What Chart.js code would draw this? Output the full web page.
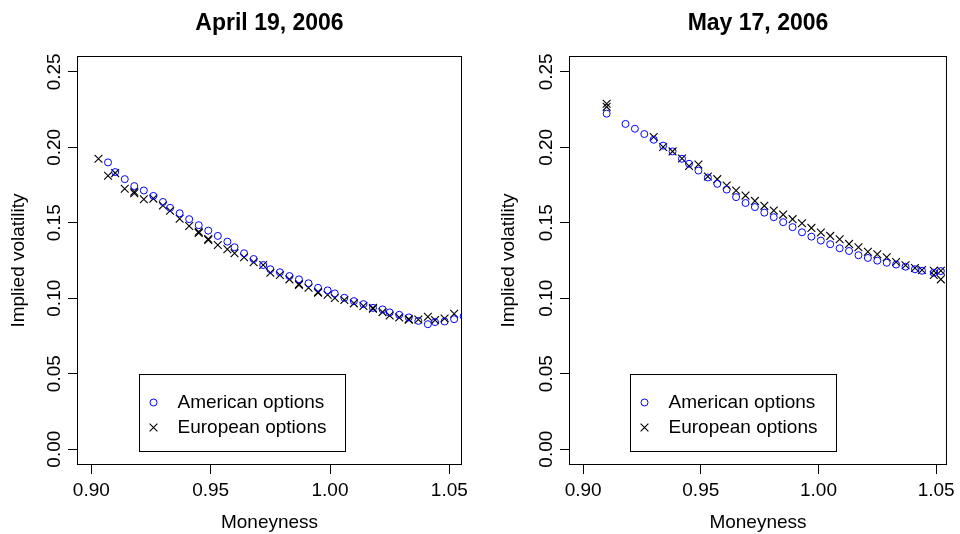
<!DOCTYPE html>
<html>
<head>
<meta charset="utf-8">
<title>Implied volatility</title>
<script src="https://cdn.jsdelivr.net/npm/chart.js@4/dist/chart.umd.min.js"></script>
<style>
  html, body { margin: 0; padding: 0; background: #fff; }
  #wrap { display: flex; width: 960px; height: 534px; }
  canvas { display: block; }
</style>
</head>
<body>
<div id="wrap">
  <canvas id="april" width="480" height="534"></canvas>
  <canvas id="may" width="480" height="534"></canvas>
</div>
<script>
// April 19, 2006
const aprAmericanX = [0.907, 0.910, 0.914, 0.918, 0.922, 0.926, 0.930, 0.933, 0.937, 0.941,
  0.945, 0.949, 0.953, 0.957, 0.960, 0.964, 0.968, 0.972, 0.975, 0.979,
  0.983, 0.987, 0.991, 0.995, 0.999, 1.002, 1.006, 1.010, 1.014, 1.018,
  1.022, 1.025, 1.029, 1.033, 1.037, 1.041, 1.044, 1.048, 1.052, 1.056];
const aprAmericanY = [0.1900, 0.1836, 0.1789, 0.1743, 0.1714, 0.1678, 0.1638, 0.1599, 0.1563, 0.1524,
  0.1484, 0.1448, 0.1413, 0.1375, 0.1338, 0.1298, 0.1260, 0.1220, 0.1192, 0.1172,
  0.1147, 0.1125, 0.1099, 0.1069, 0.1052, 0.1032, 0.1003, 0.0981, 0.0961, 0.0936,
  0.0926, 0.0906, 0.0890, 0.0873, 0.0850, 0.0828, 0.0842, 0.0846, 0.0861, 0.0881];
const aprEuropeanX = [0.903, 0.907, 0.910, 0.914, 0.918, 0.918, 0.922, 0.926, 0.930, 0.933,
  0.937, 0.941, 0.945, 0.945, 0.949, 0.949, 0.953, 0.957, 0.960, 0.964,
  0.968, 0.972, 0.975, 0.979, 0.983, 0.987, 0.987, 0.991, 0.995, 0.995,
  0.999, 1.002, 1.006, 1.010, 1.014, 1.018, 1.018, 1.022, 1.025, 1.029,
  1.033, 1.033, 1.037, 1.041, 1.044, 1.048, 1.052];
const aprEuropeanY = [0.1924, 0.1811, 0.1829, 0.1725, 0.1696, 0.1706, 0.1656, 0.1660, 0.1614, 0.1579,
  0.1526, 0.1479, 0.1433, 0.1441, 0.1393, 0.1386, 0.1353, 0.1324, 0.1298, 0.1271,
  0.1238, 0.1220, 0.1169, 0.1154, 0.1125, 0.1094, 0.1088, 0.1069, 0.1036, 0.1042,
  0.1023, 0.1001, 0.0988, 0.0966, 0.0948, 0.0930, 0.0936, 0.0908, 0.0886, 0.0873,
  0.0863, 0.0858, 0.0859, 0.0877, 0.0855, 0.0866, 0.0897];

// May 17, 2006
const mayAmericanX = [0.910, 0.918, 0.922, 0.926, 0.930, 0.934, 0.938, 0.942, 0.945, 0.949,
  0.953, 0.957, 0.961, 0.965, 0.969, 0.973, 0.977, 0.981, 0.985, 0.989,
  0.993, 0.997, 1.001, 1.005, 1.009, 1.013, 1.017, 1.021, 1.025, 1.029,
  1.033, 1.037, 1.041, 1.044, 1.049, 1.052];
const mayAmericanY = [0.2223, 0.2155, 0.2123, 0.2088, 0.2050, 0.2011, 0.1973, 0.1924, 0.1891, 0.1846,
  0.1800, 0.1758, 0.1720, 0.1670, 0.1631, 0.1604, 0.1567, 0.1537, 0.1504, 0.1471,
  0.1437, 0.1408, 0.1382, 0.1358, 0.1331, 0.1313, 0.1285, 0.1267, 0.1249, 0.1235,
  0.1223, 0.1209, 0.1192, 0.1182, 0.1169, 0.1180];
const mayEuropeanX = [0.910, 0.910, 0.930, 0.934, 0.938, 0.942, 0.945, 0.949, 0.953, 0.957,
  0.961, 0.965, 0.969, 0.973, 0.977, 0.981, 0.985, 0.989, 0.993, 0.997,
  1.001, 1.005, 1.009, 1.013, 1.017, 1.021, 1.025, 1.029, 1.033, 1.037,
  1.041, 1.044, 1.049, 1.049, 1.052, 1.052];
const mayEuropeanY = [0.2289, 0.2268, 0.2068, 0.2002, 0.1973, 0.1926, 0.1876, 0.1886, 0.1807, 0.1789,
  0.1747, 0.1714, 0.1680, 0.1645, 0.1612, 0.1581, 0.1554, 0.1524, 0.1497, 0.1466,
  0.1435, 0.1413, 0.1391, 0.1360, 0.1338, 0.1308, 0.1291, 0.1271, 0.1240, 0.1218,
  0.1200, 0.1187, 0.1182, 0.1154, 0.1182, 0.1125];

const xTicks = [0.90, 0.95, 1.00, 1.05];
const yTicks = [0.00, 0.05, 0.10, 0.15, 0.20, 0.25];
const seriesNames = ['American options', 'European options'];

const FONT = '"Liberation Sans", Arial, Helvetica, sans-serif';
const americanStyle = { pointStyle: 'circle', radius: 3.5, borderWidth: 1, borderColor: '#0000ff', backgroundColor: 'rgba(0,0,0,0)' };
const europeanStyle = { pointStyle: 'crossRot', radius: 5.5, borderWidth: 1.1, borderColor: '#000000', backgroundColor: 'rgba(0,0,0,0)' };

function zip(xs, ys) {
    return xs.map((x, i) => ({ x: x, y: ys[i] }));
}

// box, rotated y tick labels and legend, R style
const rStyle = {
    id: 'rStyle',
    afterDraw(chart) {
        const { ctx, chartArea: a, scales: { x, y } } = chart;
        ctx.save();
        ctx.strokeStyle = '#000';
        ctx.lineWidth = 1;
        ctx.strokeRect(a.left + 0.5, a.top + 0.5, a.right - a.left - 1, a.bottom - a.top - 1);

        ctx.fillStyle = '#000';
        ctx.font = '19px ' + FONT;
        ctx.textAlign = 'center';
        ctx.textBaseline = 'middle';
        y.ticks.forEach(t => {
            ctx.save();
            ctx.translate(y.right - 22, y.getPixelForValue(t.value));
            ctx.rotate(-Math.PI / 2);
            ctx.fillText(t.value.toFixed(2), 0, 0);
            ctx.restore();
        });

        // legend at (0.92, 0.05)
        const lx = Math.round(x.getPixelForValue(0.92)) + 0.5;
        const ly = Math.round(y.getPixelForValue(0.05)) + 0.5;
        ctx.fillStyle = '#fff';
        ctx.fillRect(lx, ly, 206, 77);
        ctx.strokeRect(lx, ly, 206, 77);
        [americanStyle, europeanStyle].forEach((st, i) => {
            const cy = ly + 28 + i * 25;
            ctx.strokeStyle = st.borderColor;
            ctx.fillStyle = st.backgroundColor;
            ctx.lineWidth = st.borderWidth;
            Chart.helpers.drawPoint(ctx, { pointStyle: st.pointStyle, radius: st.radius, borderWidth: st.borderWidth, rotation: 0 }, lx + 14, cy);
            ctx.fillStyle = '#000';
            ctx.textAlign = 'left';
            ctx.fillText(seriesNames[i], lx + 38, cy);
        });
        ctx.restore();
    }
};

function makePanel(id, title, amX, amY, euX, euY, o) {
    new Chart(document.getElementById(id), {
        type: 'scatter',
        data: {
            datasets: [
                {
                    label: seriesNames[0],
                    data: zip(amX, amY),
                    pointStyle: americanStyle.pointStyle,
                    pointRadius: americanStyle.radius,
                    pointBorderWidth: americanStyle.borderWidth,
                    pointBorderColor: americanStyle.borderColor,
                    pointBackgroundColor: americanStyle.backgroundColor
                },
                {
                    label: seriesNames[1],
                    data: zip(euX, euY),
                    pointStyle: europeanStyle.pointStyle,
                    pointRadius: europeanStyle.radius,
                    pointBorderWidth: europeanStyle.borderWidth,
                    pointBorderColor: europeanStyle.borderColor,
                    pointBackgroundColor: europeanStyle.backgroundColor
                }
            ]
        },
        options: {
            responsive: false,
            animation: false,
            devicePixelRatio: 1,
            layout: { padding: { left: 0, right: o.padRight, top: 0, bottom: 0 } },
            plugins: {
                legend: { display: false },
                tooltip: { enabled: false },
                title: {
                    display: true,
                    text: title,
                    color: '#000',
                    fullSize: false,
                    font: { family: FONT, size: 23, weight: 'bold' },
                    padding: { top: 10, bottom: 18.4 }
                }
            },
            scales: {
                x: {
                    type: 'linear',
                    min: 0.894,
                    max: o.xMax,
                    afterBuildTicks: s => { s.ticks = xTicks.map(v => ({ value: v })); },
                    afterFit: s => { s.height = 69; },
                    grid: { drawOnChartArea: false, drawTicks: true, tickLength: 9, tickColor: '#000', tickWidth: 1 },
                    border: { display: false },
                    ticks: {
                        color: '#000',
                        padding: 5,
                        maxRotation: 0,
                        font: { family: FONT, size: 19 },
                        callback: v => v.toFixed(2)
                    },
                    title: {
                        display: true,
                        text: 'Moneyness',
                        color: '#000',
                        font: { family: FONT, size: 19, lineHeight: 1.0 },
                        padding: { top: 0, bottom: 1.5 }
                    }
                },
                y: {
                    type: 'linear',
                    min: -0.0105,
                    max: 0.2605,
                    afterBuildTicks: s => { s.ticks = yTicks.map(v => ({ value: v })); },
                    afterFit: s => { s.width = o.yWidth; },
                    grid: { drawOnChartArea: false, drawTicks: true, tickLength: 9, tickColor: '#000', tickWidth: 1 },
                    border: { display: false },
                    ticks: { display: false },
                    title: {
                        display: true,
                        text: 'Implied volatility',
                        color: '#000',
                        font: { family: FONT, size: 19 },
                        padding: { top: o.yTitlePad, bottom: 0 }
                    }
                }
            }
        },
        plugins: [rStyle]
    });
}

makePanel('april', 'April 19, 2006', aprAmericanX, aprAmericanY, aprEuropeanX, aprEuropeanY,
    { xMax: 1.0553, padRight: 18, yWidth: 77, yTitlePad: 7 });
makePanel('may', 'May 17, 2006', mayAmericanX, mayAmericanY, mayEuropeanX, mayEuropeanY,
    { xMax: 1.0546, padRight: 8, yWidth: 89, yTitlePad: 17 });
</script>
</body>
</html>
